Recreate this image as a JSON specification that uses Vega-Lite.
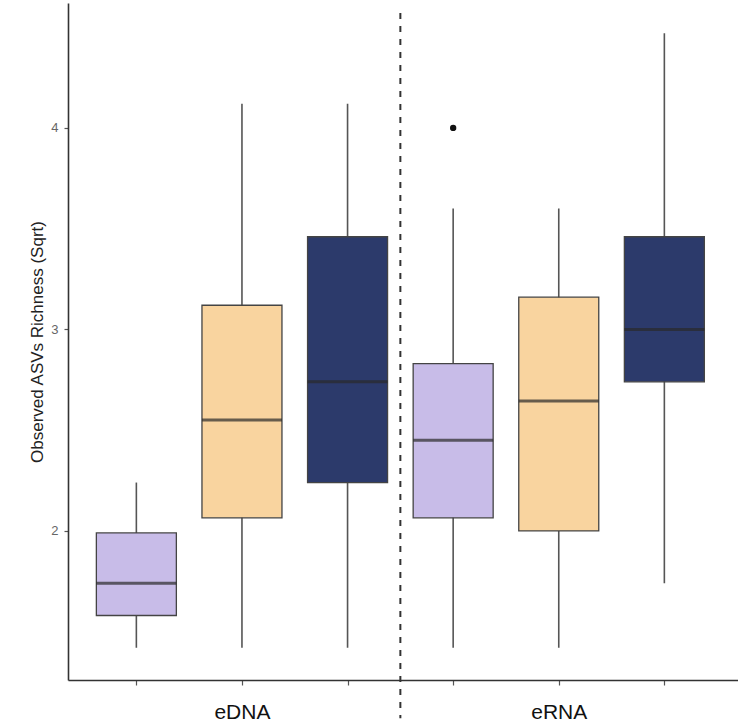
{
  "$schema": "https://vega.github.io/schema/vega-lite/v6.json",
  "width": 670,
  "height": 677,
  "autosize": "none",
  "padding": {"left": 68, "top": 3, "right": 0, "bottom": 48},
  "background": "white",
  "config": {"view": {"stroke": null}, "font": "Liberation Sans"},
  "datasets": {
    "boxes": [
      {"pos": 1, "nucleic": "eDNA", "grp": "A", "lower": 1.42, "q1": 1.58, "median": 1.74, "q3": 1.99, "upper": 2.24},
      {"pos": 2, "nucleic": "eDNA", "grp": "B", "lower": 1.42, "q1": 2.065, "median": 2.55, "q3": 3.12, "upper": 4.12},
      {"pos": 3, "nucleic": "eDNA", "grp": "C", "lower": 1.42, "q1": 2.24, "median": 2.74, "q3": 3.46, "upper": 4.12},
      {"pos": 4, "nucleic": "eRNA", "grp": "A", "lower": 1.42, "q1": 2.065, "median": 2.45, "q3": 2.83, "upper": 3.6, "outlier": 4.0},
      {"pos": 5, "nucleic": "eRNA", "grp": "B", "lower": 1.42, "q1": 2.0, "median": 2.645, "q3": 3.16, "upper": 3.6},
      {"pos": 6, "nucleic": "eRNA", "grp": "C", "lower": 1.74, "q1": 2.74, "median": 3.0, "q3": 3.46, "upper": 4.47}
    ],
    "divider": [
      {"pos": 3.5, "top": 4.57, "bottom": 1.07}
    ]
  },
  "layer": [
    {
      "data": {"name": "boxes"},
      "mark": {"type": "rule", "color": "#555555", "strokeWidth": 1.6},
      "encoding": {
        "x": {
          "field": "pos", "type": "quantitative",
          "scale": {"domain": [0.4, 6.65], "nice": false, "zero": false},
          "axis": {
            "values": [1, 2, 3, 4, 5, 6],
            "labelExpr": "datum.value == 2 ? 'eDNA' : (datum.value == 5 ? 'eRNA' : '')",
            "title": null, "grid": false,
            "domainColor": "#333333", "domainWidth": 1.6,
            "tickColor": "#555555", "tickSize": 5, "tickWidth": 1.2,
            "labelFontSize": 21, "labelColor": "#111111", "labelPadding": 16,
            "labelFont": "Liberation Sans"
          }
        },
        "y": {"field": "lower", "type": "quantitative",
          "scale": {"domain": [1.26, 4.62], "nice": false, "zero": false},
          "axis": {
            "values": [2, 3, 4], "format": "d", "grid": false,
            "title": "Observed ASVs Richness (Sqrt)",
            "titleFontSize": 17, "titleFontWeight": "normal", "titleColor": "#222222",
            "titlePadding": 4, "titleFont": "Liberation Sans",
            "labelFontSize": 13, "labelColor": "#666666", "labelPadding": 6,
            "domainColor": "#333333", "domainWidth": 1.6,
            "tickColor": "#555555", "tickSize": 4, "tickWidth": 1.2
          }},
        "y2": {"field": "upper"}
      }
    },
    {
      "data": {"name": "boxes"},
      "mark": {"type": "bar", "size": 80, "stroke": "#444444", "strokeWidth": 1.3},
      "encoding": {
        "x": {"field": "pos", "type": "quantitative"},
        "y": {"field": "q1", "type": "quantitative"},
        "y2": {"field": "q3"},
        "color": {"field": "grp", "type": "nominal", "legend": null,
          "scale": {"domain": ["A", "B", "C"], "range": ["#C8BCE8", "#F9D49F", "#2C3A6B"]}}
      }
    },
    {
      "data": {"name": "boxes"},
      "mark": {"type": "tick", "orient": "horizontal", "size": 80, "thickness": 3, "color": "#2a2a2a"},
      "encoding": {
        "x": {"field": "pos", "type": "quantitative"},
        "y": {"field": "median", "type": "quantitative"}
      }
    },
    {
      "data": {"name": "boxes"},
      "mark": {"type": "point", "filled": true, "size": 40, "color": "#111111", "opacity": 1},
      "encoding": {
        "x": {"field": "pos", "type": "quantitative"},
        "y": {"field": "outlier", "type": "quantitative"}
      }
    },
    {
      "data": {"name": "divider"},
      "mark": {"type": "rule", "color": "#333333", "strokeWidth": 2, "strokeDash": [6, 7], "clip": false},
      "encoding": {
        "x": {"field": "pos", "type": "quantitative"},
        "y": {"field": "top", "type": "quantitative"},
        "y2": {"field": "bottom"}
      }
    }
  ]
}
